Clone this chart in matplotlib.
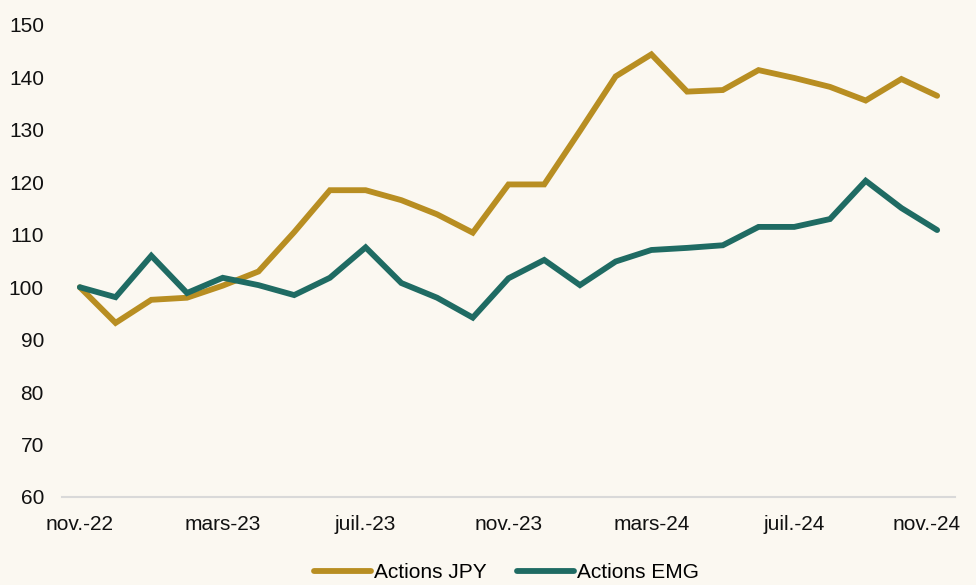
import matplotlib
matplotlib.use("Agg")
import matplotlib.pyplot as plt
import matplotlib.transforms as mtransforms

months = ["nov.-22", "déc.-22", "janv.-23", "févr.-23", "mars-23", "avr.-23", "mai-23", "juin-23",
          "juil.-23", "août-23", "sept.-23", "oct.-23", "nov.-23", "déc.-23", "janv.-24", "févr.-24",
          "mars-24", "avr.-24", "mai-24", "juin-24", "juil.-24", "août-24", "sept.-24", "oct.-24", "nov.-24"]
actions_jpy = [100.0, 93.2, 97.6, 98.0, 100.3, 103.0, 110.5, 118.5, 118.5, 116.6, 113.9, 110.4,
               119.6, 119.6, 129.8, 140.2, 144.4, 137.3, 137.6, 141.4, 139.9, 138.2, 135.6, 139.7, 136.5]
actions_emg = [100.0, 98.1, 106.0, 98.9, 101.8, 100.4, 98.5, 101.8, 107.6, 100.8, 98.0, 94.2,
               101.7, 105.2, 100.4, 104.9, 107.1, 107.5, 108.0, 111.5, 111.5, 113.0, 120.3, 115.1, 110.9]
tick_labels = ["nov.-22", "mars-23", "juil.-23", "nov.-23", "mars-24", "juil.-24", "nov.-24"]
yticks = [60, 70, 80, 90, 100, 110, 120, 130, 140, 150]

bg = "#FBF8F1"
gold = "#B88E22"
teal = "#1F6B63"

plt.rcParams['font.family'] = ['Liberation Sans', 'DejaVu Sans']

fig = plt.figure(figsize=(9.76, 5.85), dpi=100, facecolor=bg)
ax = fig.add_axes([62/976, 1-497/585, (955-62)/976, (497-25)/585])
ax.set_facecolor(bg)

x = list(range(len(months)))
ax.plot(x, actions_jpy, color=gold, lw=4.2, label="Actions JPY", solid_capstyle='round', solid_joinstyle='miter')
ax.plot(x, actions_emg, color=teal, lw=4.2, label="Actions EMG", solid_capstyle='round', solid_joinstyle='miter')

ax.set_xlim(-0.5, len(months) - 0.5)
ax.set_ylim(60, 150)
ax.set_yticks(yticks)
ax.set_yticklabels([str(v) for v in yticks])
tick_pos = [months.index(t) for t in tick_labels]
ax.set_xticks(tick_pos)
ax.set_xticklabels(tick_labels)

for s in ['top', 'right', 'left']:
    ax.spines[s].set_visible(False)
ax.spines['bottom'].set_color('#D9D9D9')
ax.spines['bottom'].set_linewidth(1.5)
ax.tick_params(axis='both', length=0, labelsize=15, colors='#111111')
ax.tick_params(axis='x', pad=13)
ax.tick_params(axis='y', pad=13)

# shift last label inside figure like the original
lbls = ax.get_xticklabels()
off = mtransforms.ScaledTranslation(-11/100, 0, fig.dpi_scale_trans)
lbls[-1].set_transform(lbls[-1].get_transform() + off)

leg = fig.legend(loc='center', bbox_to_anchor=(0.519, 1-573/585), ncol=2, frameon=False,
                 fontsize=15, handlelength=2.75, handletextpad=0.15, columnspacing=1.45)

fig.savefig("out.png", dpi=100, facecolor=bg)
